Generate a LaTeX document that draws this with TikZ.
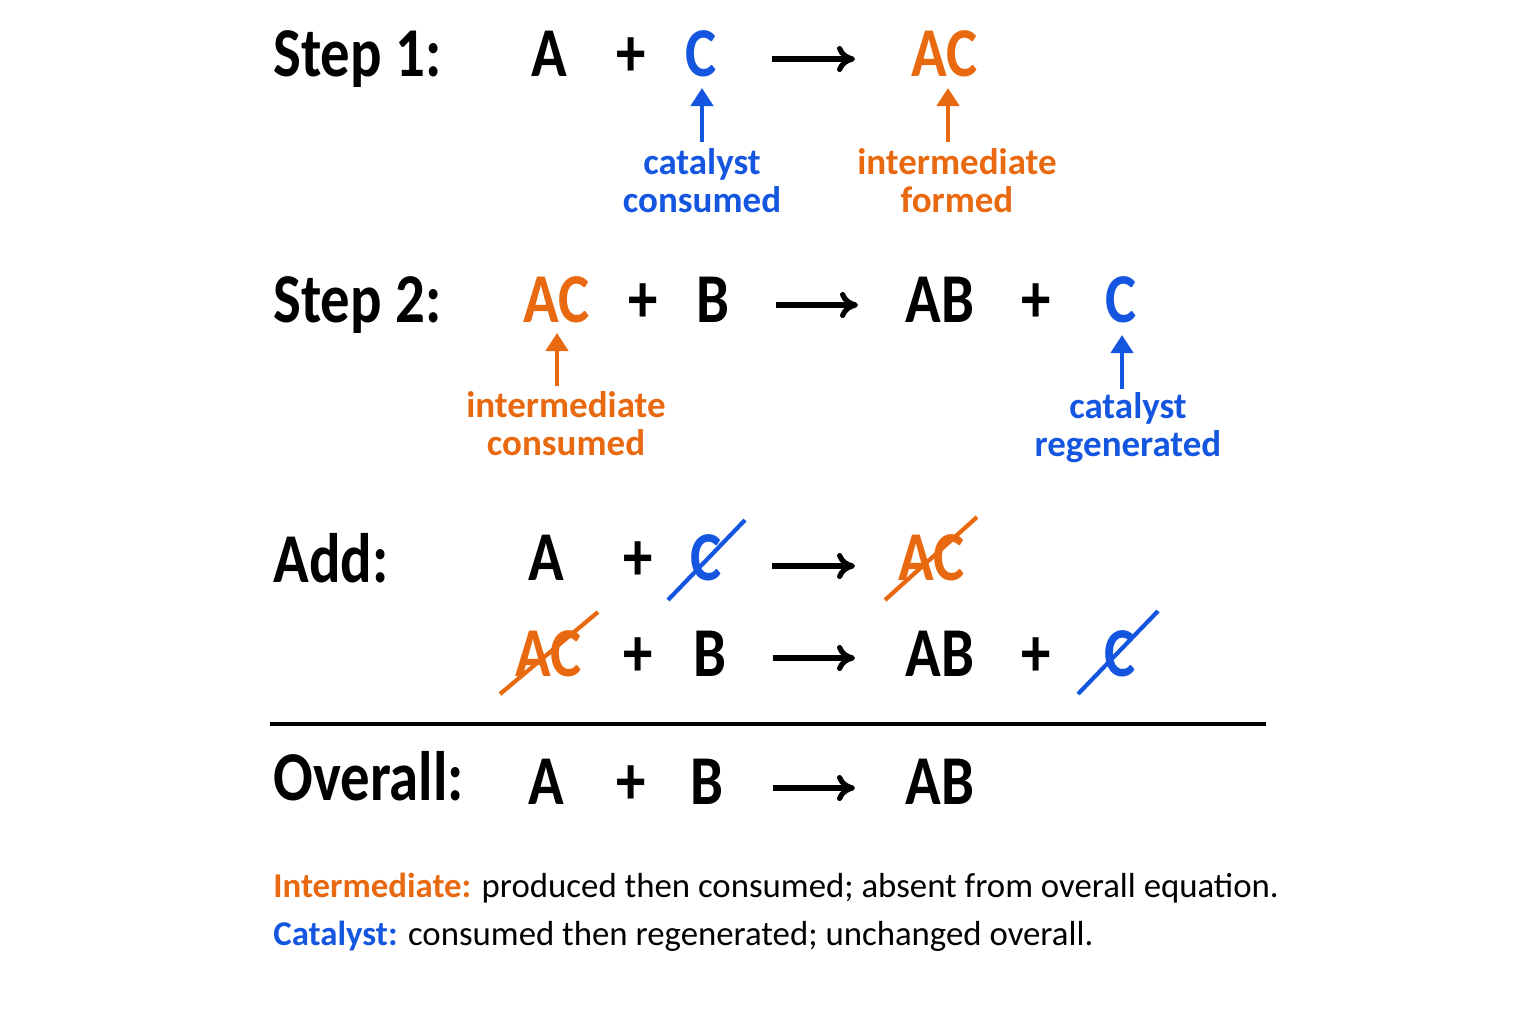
\documentclass[tikz,border=0pt]{standalone}
\usepackage{fontspec}
\setmainfont{Carlito}
\newfontfamily\condf{Carlito}[FakeStretch=0.84]
\usetikzlibrary{arrows.meta}
\definecolor{or}{HTML}{E8690F}
\definecolor{bl}{HTML}{1556E0}
\begin{document}
\begin{tikzpicture}[x=0.5pt,y=-0.5pt,
 big/.style={font=\condf\fontsize{35}{40}\selectfont\bfseries,anchor=base,inner sep=0},
 hd/.style={big,anchor=base west},
 lab/.style={font=\fontsize{18.5}{19}\selectfont\bfseries,align=center,inner sep=0},
 rx/.style={line width=2.6pt,-{To[length=9pt,width=13pt,line width=2.6pt]}},
 up/.style={line width=2.4pt,-{Triangle[length=9pt,width=11pt]}},
 st/.style={line width=2.1pt}]
\useasboundingbox (0,0) rectangle (1536,1024);
% Step 1
\node[hd] (s1) at (273,76) {Step 1:};
\node[big] (a1) at (549,76) {A};
\node[big] (p1) at (631,76) {+};
\node[big,bl] (c1) at (701,76) {C};
\coordinate (r1a) at (772,59); \coordinate (r1b) at (855,59);
\draw[rx] (r1a) -- (r1b);
\node[big,or] (ac1) at (945,76) {AC};
\node[lab,bl] (l1) at (702,181) {catalyst\\consumed};
\node[lab,or] (l2) at (957,181) {intermediate\\formed};
\draw[up,bl] (702,142) -- (702,88);
\draw[up,or] (948,142) -- (948,88);
% Step 2
\node[hd] (s2) at (273,322) {Step 2:};
\node[big,or] (ac2) at (557,322) {AC};
\node[big] (p2) at (643,322) {+};
\node[big] (b2) at (713,322) {B};
\coordinate (r2a) at (776,305); \coordinate (r2b) at (858,305);
\draw[rx] (r2a) -- (r2b);
\node[big] (ab2) at (940,322) {AB};
\node[big] (p3) at (1036,322) {+};
\node[big,bl] (c2) at (1121,322) {C};
\node[lab,or] (l3) at (566,424) {intermediate\\consumed};
\node[lab,bl] (l4) at (1128,428) {catalyst\\regenerated};
\draw[up,or] (557,386) -- (557,333);
\draw[up,bl] (1122,389) -- (1122,335);
% Add
\node[hd] (s3) at (273,582) {Add:};
\node[big] (a3) at (546,580) {A};
\node[big] (p4) at (638,580) {+};
\node[big,bl] (c3) at (706,580) {C};
\draw[st,bl] (668,600) -- (745,520);
\coordinate (r3a) at (772,566); \coordinate (r3b) at (855,566);
\draw[rx] (r3a) -- (r3b);
\node[big,or] (ac3) at (932,580) {AC};
\draw[st,or] (885,600) -- (977,517);
\node[big,or] (ac4) at (549,676) {AC};
\draw[st,or] (500,694) -- (598,612);
\node[big] (p5) at (638,676) {+};
\node[big] (b4) at (710,676) {B};
\coordinate (r4a) at (773,658); \coordinate (r4b) at (855,658);
\draw[rx] (r4a) -- (r4b);
\node[big] (ab4) at (940,676) {AB};
\node[big] (p6) at (1036,676) {+};
\node[big,bl] (c4) at (1120,676) {C};
\draw[st,bl] (1078,694) -- (1158,611);
% line
\coordinate (la) at (270,724); \coordinate (lb) at (1266,724);
\draw[line width=2pt] (la) -- (lb);
% Overall
\node[hd] (s4) at (273,800) {Overall:};
\node[big] (a5) at (546,804) {A};
\node[big] (p7) at (631,804) {+};
\node[big] (b5) at (707,804) {B};
\coordinate (r5a) at (773,788); \coordinate (r5b) at (855,788);
\draw[rx] (r5a) -- (r5b);
\node[big] (ab5) at (940,804) {AB};
% notes
\node[anchor=base west,inner sep=0,font=\fontsize{17.4}{18}\selectfont] (n1) at (273,897)
 {\textcolor{or}{\bfseries Intermediate:} produced then consumed; absent from overall equation.};
\node[anchor=base west,inner sep=0,font=\fontsize{17.4}{18}\selectfont] (n2) at (273,945)
 {\textcolor{bl}{\bfseries Catalyst:} consumed then regenerated; unchanged overall.};
\end{tikzpicture}
\end{document}
